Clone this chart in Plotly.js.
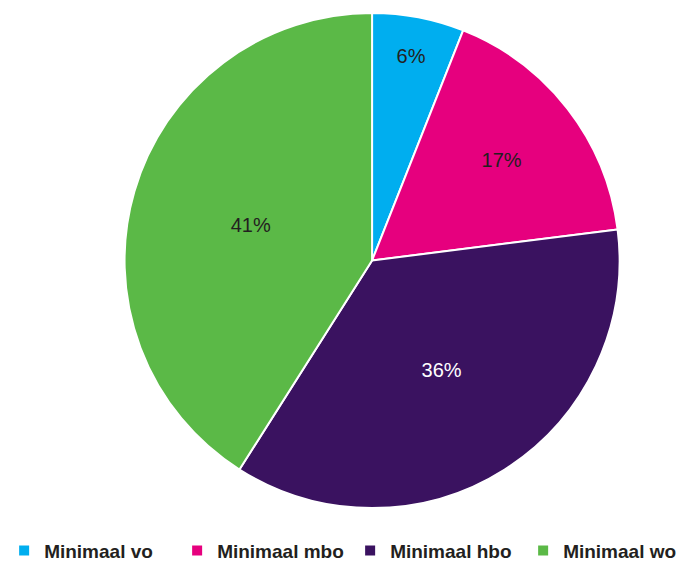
<!DOCTYPE html>
<html>
<head>
<meta charset="utf-8">
<script src="https://cdn.plot.ly/plotly-3.0.1.min.js"></script>
<style>html,body{margin:0;padding:0;background:#fff;}#chart{width:689px;height:561px;}</style>
</head>
<body>
<div id="chart"></div>
<script>
const categories = ["Minimaal vo", "Minimaal mbo", "Minimaal hbo", "Minimaal wo"];
const shares = [6, 17, 36, 41];
const sliceColors = ["#00aeef", "#e6007e", "#3a1260", "#5bb947"];
const labelColors = ["#231f20", "#231f20", "#ffffff", "#231f20"];

const trace = {
  type: "pie",
  labels: categories,
  values: shares,
  sort: false,
  direction: "clockwise",
  rotation: 0,
  domain: {x: [0.18, 0.9], y: [0, 1]},
  marker: {colors: sliceColors, line: {color: "#ffffff", width: 2}},
  texttemplate: "%{value}%",
  textposition: "inside",
  insidetextorientation: "horizontal",
  textfont: {family: "Liberation Sans, Arial, sans-serif", size: 20, color: labelColors},
  hoverinfo: "none"
};

const layout = {
  width: 689,
  height: 561,
  margin: {l: 0, r: 0, t: 13, b: 53, autoexpand: false},
  paper_bgcolor: "#ffffff",
  showlegend: true,
  legend: {
    orientation: "h",
    x: 0.006,
    xanchor: "left",
    y: -0.086,
    yanchor: "middle",
    entrywidth: 128,
    entrywidthmode: "pixels",
    font: {family: "Liberation Sans, Arial, sans-serif", size: 19, color: "#231f20", weight: "bold"},
    itemclick: false
  }
};

Plotly.newPlot("chart", [trace], layout, {staticPlot: true, displayModeBar: false});
</script>
</body>
</html>
